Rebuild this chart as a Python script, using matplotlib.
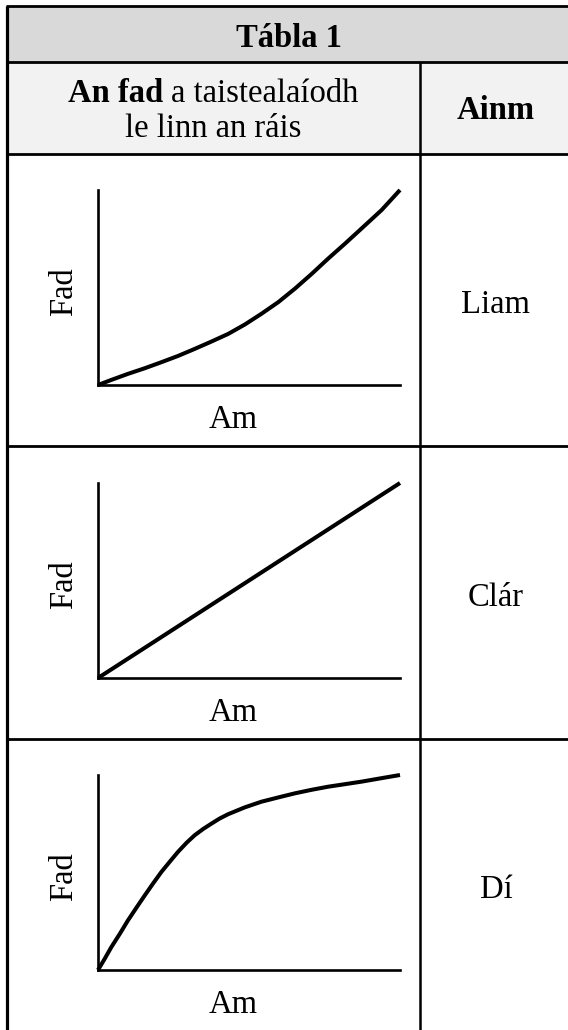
import matplotlib
matplotlib.use("Agg")
import matplotlib.pyplot as plt

plt.rcParams['font.family'] = ['Liberation Serif', 'DejaVu Serif']

# table text
title = "Tábla 1"
head_bold = "An fad"
head_rest = "a taistealaíodh"
head_line2 = "le linn an ráis"
head_name = "Ainm"
names = ["Liam", "Clár", "Dí"]
xlabel = "Am"
ylabel = "Fad"

# curves (fraction of axis length)
liam_x = [0, 0.044, 0.099, 0.155, 0.210, 0.265, 0.320, 0.376, 0.431, 0.486,
          0.541, 0.597, 0.652, 0.707, 0.762, 0.818, 0.873, 0.939, 1.0]
liam_y = [0, 0.026, 0.057, 0.086, 0.117, 0.149, 0.185, 0.223, 0.262, 0.310,
          0.365, 0.425, 0.494, 0.569, 0.648, 0.725, 0.803, 0.897, 1.0]
clar_x = [0, 1.0]
clar_y = [0, 1.0]
di_x = [0, 0.022, 0.044, 0.072, 0.099, 0.127, 0.155, 0.182, 0.210, 0.238, 0.265,
        0.293, 0.320, 0.348, 0.376, 0.403, 0.431, 0.486, 0.541, 0.597, 0.652,
        0.707, 0.762, 0.818, 0.873, 0.936, 1.0]
di_y = [0, 0.057, 0.117, 0.185, 0.254, 0.319, 0.383, 0.443, 0.503, 0.556, 0.606,
        0.652, 0.691, 0.723, 0.751, 0.777, 0.799, 0.834, 0.863, 0.885, 0.906,
        0.924, 0.940, 0.953, 0.966, 0.983, 1.0]
curves = [(liam_x, liam_y), (clar_x, clar_y), (di_x, di_y)]

W, H = 568, 1030
fig = plt.figure(figsize=(W / 100, H / 100), dpi=100)
bg = fig.add_axes([0, 0, 1, 1])
bg.set_xlim(0, W)
bg.set_ylim(H, 0)
bg.axis('off')

fs = 23.5
left, right, col = 7, 572, 420
rows = [6, 62, 154, 446, 739, 1040]

# fills
bg.fill_between([left, right], rows[0], rows[1], color='#d9d9d9', lw=0)
bg.fill_between([left, right], rows[1], rows[2], color='#f2f2f2', lw=0)

# grid lines
for y in rows[:-1]:
    bg.plot([left - 1.5, right], [y, y], color='black', lw=2.0, solid_capstyle='butt')
bg.plot([left, left], [rows[0], H + 5], color='black', lw=2.3, solid_capstyle='butt')
bg.plot([col, col], [rows[1], H + 5], color='black', lw=1.8, solid_capstyle='butt')

# header text
bg.text((left + right) / 2, 47, title, fontsize=fs, weight='bold', ha='center', va='baseline')
bg.text((col + right) / 2, 119, head_name, fontsize=fs, weight='bold', ha='center', va='baseline')

r = fig.canvas.get_renderer()
t1 = bg.text(0, 102, head_bold, fontsize=fs, weight='bold', ha='left', va='baseline')
t2 = bg.text(0, 102, head_rest, fontsize=fs, ha='left', va='baseline')
w1 = t1.get_window_extent(r).width
w2 = t2.get_window_extent(r).width
gap = 8
cx = (left + col) / 2
x0 = cx - (w1 + gap + w2) / 2
t1.set_x(x0)
t2.set_x(x0 + w1 + gap)
bg.text(cx, 137, head_line2, fontsize=fs, ha='center', va='baseline')

# graph rows
ax_left, ax_right = 98, 400
ax_bottoms = [385, 678, 970]
ax_h = 195
name_base = [313, 606, 898]
am_base = [428, 721, 1013]

for i, (xs, ys) in enumerate(curves):
    b = ax_bottoms[i]
    ax = fig.add_axes([ax_left / W, 1 - b / H, (ax_right - ax_left) / W, ax_h / H])
    ax.set_xlim(0, 1)
    ax.set_ylim(0, 1)
    ax.patch.set_alpha(0)
    for s in ['top', 'right']:
        ax.spines[s].set_visible(False)
    for s in ['left', 'bottom']:
        ax.spines[s].set_linewidth(1.9)
    ax.set_xticks([])
    ax.set_yticks([])
    ax.plot(xs, ys, color='black', lw=2.9, clip_on=False,
            solid_capstyle='butt', solid_joinstyle='round')

    bg.text(233, am_base[i], xlabel, fontsize=fs, ha='center', va='baseline')
    bg.text(64, b - 93, ylabel, fontsize=fs, ha='center', va='center', rotation=90)
    bg.text((col + right) / 2, name_base[i], names[i], fontsize=fs, ha='center', va='baseline')

fig.savefig("out.png", dpi=100)
